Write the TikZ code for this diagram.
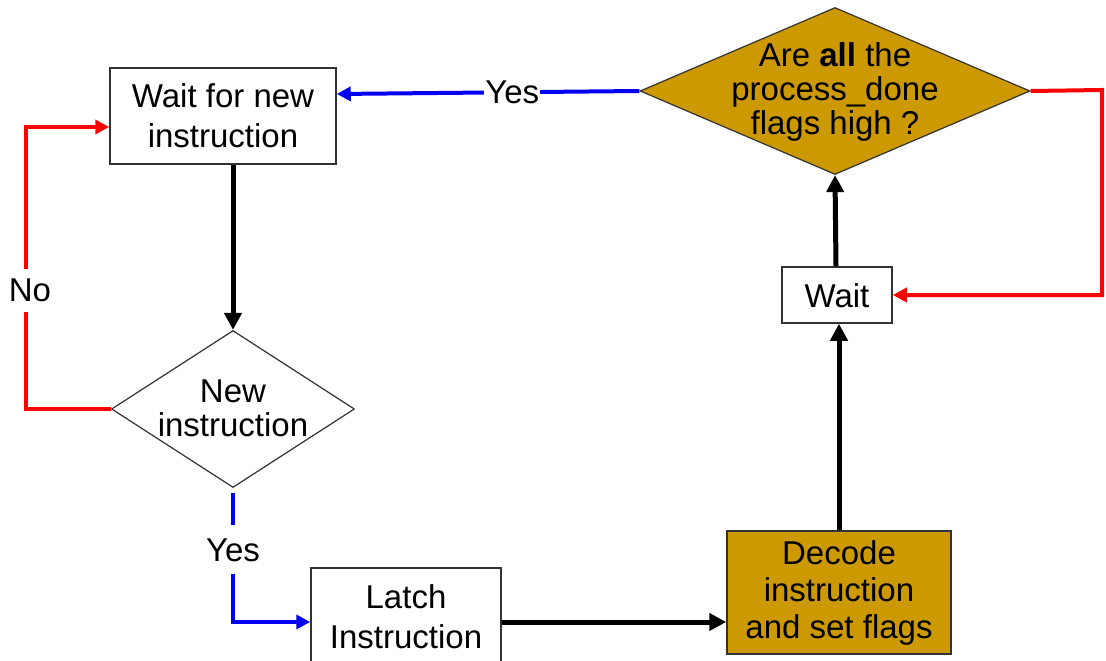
\documentclass[tikz,border=0pt]{standalone}
\usepackage{fontspec}
\setmainfont{Liberation Sans}
\usetikzlibrary{shapes.geometric,arrows.meta}
\definecolor{gold}{RGB}{204,153,0}
\definecolor{rline}{RGB}{255,0,0}
\definecolor{bline}{RGB}{0,0,240}
\definecolor{edge}{RGB}{50,50,50}
\tikzset{
  box/.style={draw=edge, line width=1.5pt, fill=white, inner sep=0pt, align=center},
  goldbox/.style={box, fill=gold},
  dia/.style={diamond, draw=edge, line width=1.2pt, inner sep=0pt},
  txt/.style={align=center, inner sep=0pt, font=\fontsize{33}{40}\selectfont},
  blk/.style={line width=5pt, -{Triangle[length=17pt,width=17pt]}},
  redl/.style={draw=rline, line width=4pt, -{Triangle[length=14pt,width=14pt]}},
  bluel/.style={draw=bline, line width=4pt, -{Triangle[length=14pt,width=14pt]}},
  lbl/.style={fill=white, text=black, inner sep=1pt, font=\fontsize{33}{40}\selectfont}
}
\begin{document}
\begin{tikzpicture}[x=1pt,y=-1pt]
\useasboundingbox (0,0) rectangle (1106,661);
% nodes
\node[box, minimum width=226pt, minimum height=96pt] (wfn) at (223,116) {};
\node[txt] (wfnt) at (223,116) {Wait for new\\instruction};
\node[dia, fill=gold, minimum width=390pt, minimum height=167pt] (q) at (835,91) {};
\node[txt, font=\fontsize{33}{34}\selectfont] (qt) at (835,92) {Are \textbf{all} the\\process\_done\\flags high ?};
\node[dia, fill=white, minimum width=243pt, minimum height=157pt] (ni) at (233,409) {};
\node[txt, font=\fontsize{33}{34}\selectfont] (nit) at (233,408) {New\\instruction};
\node[box, minimum width=190pt, minimum height=100pt] (latch) at (406,618) {};
\node[txt] (latcht) at (406,617) {Latch\\Instruction};
\node[goldbox, minimum width=224pt, minimum height=123pt] (dec) at (839,592.5) {};
\node[txt, font=\fontsize{33}{37}\selectfont] (dect) at (839,593) {Decode\\instruction\\and set flags};
\node[box, minimum width=110pt, minimum height=56pt] (wait) at (837,295) {};
\node[txt] (waitt) at (837,296) {Wait};
% connectors
\draw[blk] (wfn.south -| 233,0) -- (ni.north);
\draw[redl] (ni.west) -- (26,409) -- node[lbl, pos=0.42, inner ysep=10pt, xshift=4pt]{No} (26,127) -- ([yshift=-11pt]wfn.west);
\draw[bluel] ([yshift=-5pt]ni.south) -- node[lbl, pos=0.44, inner ysep=13pt]{Yes} (233,622) -- ([yshift=-4pt]latch.west);
\draw[blk] ([yshift=-4pt]latch.east) -- (dec.west |- 0,622);
\draw[blk] (dec.north -| 839,0) -- (wait.south -| 839,0);
\draw[blk] (wait.north -| 836,0) -- (q.south);
\draw[redl] (q.east) -- (1102,90) |- (wait.east);
\draw[bluel] (q.west) -- node[lbl, pos=0.42]{Yes} (wfn.east |- 0,94);
\end{tikzpicture}
\end{document}
